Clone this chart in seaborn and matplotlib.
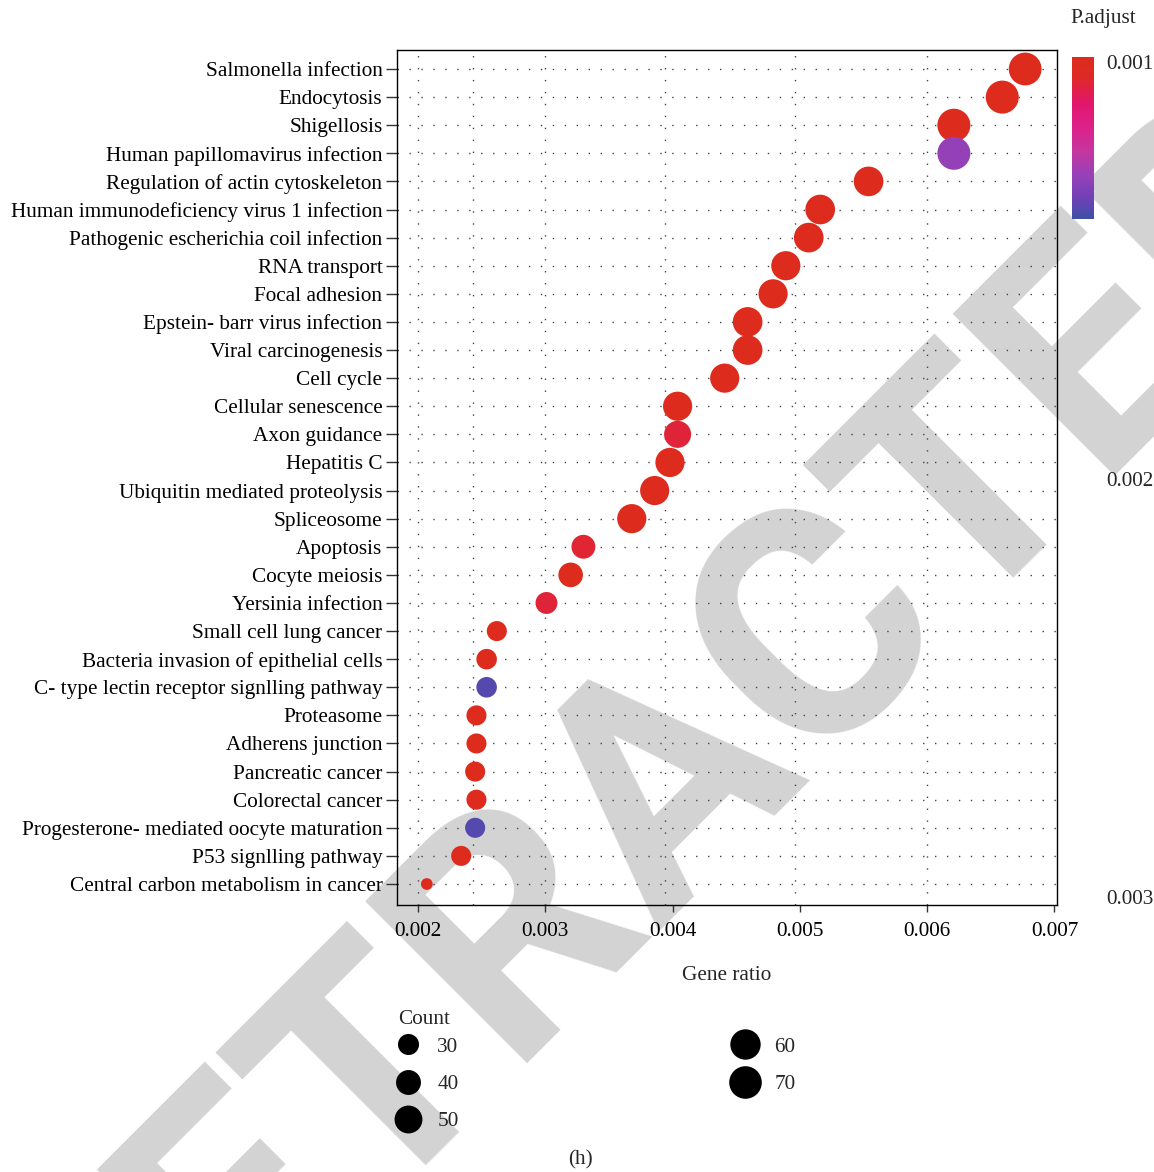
import numpy as np
import pandas as pd
import matplotlib
matplotlib.use("Agg")
import matplotlib.pyplot as plt
from matplotlib.colors import LinearSegmentedColormap, Normalize
from matplotlib.cm import ScalarMappable
from matplotlib.lines import Line2D
from matplotlib.textpath import TextPath
from matplotlib.path import Path
from matplotlib.font_manager import FontProperties
import seaborn as sns

# ---- KEGG enrichment results ----
pathways = [
    "Salmonella infection", "Endocytosis", "Shigellosis",
    "Human papillomavirus infection", "Regulation of actin cytoskeleton",
    "Human immunodeficiency virus 1 infection",
    "Pathogenic escherichia coil infection", "RNA transport", "Focal adhesion",
    "Epstein- barr virus infection", "Viral carcinogenesis", "Cell cycle",
    "Cellular senescence", "Axon guidance", "Hepatitis C",
    "Ubiquitin mediated proteolysis", "Spliceosome", "Apoptosis",
    "Cocyte meiosis", "Yersinia infection", "Small cell lung cancer",
    "Bacteria invasion of epithelial cells",
    "C- type lectin receptor signlling pathway", "Proteasome",
    "Adherens junction", "Pancreatic cancer", "Colorectal cancer",
    "Progesterone- mediated oocyte maturation", "P53 signlling pathway",
    "Central carbon metabolism in cancer",
]
gene_ratio = [
    0.00677, 0.00659, 0.00621, 0.00621, 0.00554, 0.00516, 0.00507, 0.00489,
    0.00479, 0.00459, 0.00459, 0.00441, 0.00404, 0.00404, 0.00398, 0.00386,
    0.00368, 0.00330, 0.00320, 0.00301, 0.00262, 0.00254, 0.00254, 0.00246,
    0.00246, 0.00245, 0.00246, 0.00245, 0.00234, 0.00207,
]
counts = [
    71, 72, 72, 72, 57, 57, 57, 55, 55, 57, 57, 55, 55, 47, 55,
    55, 55, 37, 39, 32, 28, 29, 29, 28, 28, 28, 28, 28, 28, 20,
]
p_adjust = [
    0.00100, 0.00100, 0.00100, 0.00248, 0.00100, 0.00100, 0.00100, 0.00100,
    0.00100, 0.00100, 0.00100, 0.00100, 0.00100, 0.00133, 0.00100, 0.00100,
    0.00100, 0.00130, 0.00100, 0.00133, 0.00100, 0.00100, 0.00288, 0.00100,
    0.00100, 0.00100, 0.00100, 0.00288, 0.00100, 0.00100,
]
count_breaks = [30, 40, 50, 60, 70]
padj_labels = [0.001, 0.002, 0.003]
ratio_ticks = [0.002, 0.003, 0.004, 0.005, 0.006, 0.007]
grid_x = [0.002, 0.00243, 0.003, 0.00394, 0.00496, 0.006]

DPI = 100
W, H = 1154, 1172

df = pd.DataFrame({
    "Description": pathways,
    "GeneRatio": gene_ratio,
    "Count": counts,
    "p.adjust": p_adjust,
})

sns.set_theme(style="white")
plt.rcParams["font.family"] = ["Liberation Serif", "DejaVu Serif"]
FS = 15.3

# colour scale for adjusted p-values (red = most significant)
cmap = LinearSegmentedColormap.from_list("padj", [
    (0.00, "#DD2C1D"), (0.12, "#DE2A26"), (0.28, "#E2166A"),
    (0.42, "#DE2088"), (0.58, "#C6359E"), (0.72, "#9A41B8"),
    (0.86, "#7440B6"), (1.00, "#3E50A6"),
])
norm = Normalize(vmin=0.001, vmax=0.003)

# dot size: diameter grows with sqrt of rescaled count
DOT_MIN_PX, DOT_MAX_PX = 11.7, 33.0
cmin, cmax = min(counts), max(counts)


def dot_area(c):
    t = np.clip((c - cmin) / (cmax - cmin), 0, 1)
    d_px = DOT_MIN_PX + (DOT_MAX_PX - DOT_MIN_PX) * np.sqrt(t)
    return (d_px * 72.0 / DPI) ** 2


size_map = {c: dot_area(c) for c in sorted(set(counts))}

fig = plt.figure(figsize=(W / DPI, H / DPI), dpi=DPI, facecolor="white")

# ---- diagonal watermark, laid out so that the cap-top left corners of the
# two "T" letters sit at the given pixel positions ----
WM_TEXT = "RETRACTED"
wm_font = FontProperties(family=["Roboto", "Liberation Sans", "DejaVu Sans"],
                         weight="bold")
T1_CORNER = (210.0, 1037.0)   # first T, pixels from top-left
T2_CORNER = (797.0, 449.0)    # second T


def glyph_top_left(prefix):
    full = TextPath((0, 0), prefix, size=1, prop=wm_font)
    last = TextPath((0, 0), prefix[-1], size=1, prop=wm_font)
    n = len(last.vertices)
    v = full.vertices[-n:]
    c = full.codes[-n:]
    v = v[c != Path.CLOSEPOLY]
    return v[:, 0].min(), v[:, 1].max()


u1, cap = glyph_top_left(WM_TEXT[:3])
u2, _ = glyph_top_left(WM_TEXT[:7])
span = np.hypot(T2_CORNER[0] - T1_CORNER[0], T2_CORNER[1] - T1_CORNER[1])
em_px = span / (u2 - u1)
r = np.sqrt(0.5)
anchor_x = T1_CORNER[0] - r * (u1 - cap) * em_px
anchor_y = T1_CORNER[1] + r * (u1 + cap) * em_px
wm_prop = wm_font.copy()
wm_prop.set_size(em_px * 72.0 / DPI)
fig.text(anchor_x / W, 1 - anchor_y / H, WM_TEXT, rotation=45,
         rotation_mode="anchor", ha="left", va="baseline",
         fontproperties=wm_prop, color="#D3D3D3", zorder=-1)

ax = fig.add_axes([397 / W, 1 - 905 / H, 660 / W, 855 / H])
ax.set_facecolor("none")

for gx in grid_x:
    ax.axvline(gx, color="#444444", lw=1.0, ls=(0, (1, 7.6)), zorder=1)
for i in range(len(pathways)):
    ax.axhline(i, color="#444444", lw=1.0, ls=(0, (1, 7.6)), zorder=1)

sns.scatterplot(data=df, x="GeneRatio", y="Description", size="Count",
                sizes=size_map, hue="p.adjust", palette=cmap, hue_norm=norm,
                linewidth=0, legend=False, ax=ax, zorder=3)

ax.set_xlim(0.001836, 0.00702)
ax.set_ylim(len(pathways) - 1 + 0.747, -0.676)
ax.set_xticks(ratio_ticks)
ax.set_xticklabels([f"{t:.3f}" for t in ratio_ticks], fontsize=FS)
ax.set_yticks(range(len(pathways)))
ax.set_yticklabels(pathways, fontsize=FS)
ax.tick_params(axis="y", left=True, length=8, width=1.0, color="#333333",
               pad=2.5, labelcolor="black")
ax.tick_params(axis="x", bottom=True, length=5, width=1.0, color="#333333",
               pad=7.5, labelcolor="black")
for s in ax.spines.values():
    s.set_color("black")
    s.set_linewidth(1.0)
ax.set_ylabel("")
ax.set_xlabel("Gene ratio", fontsize=FS, va="center")
ax.xaxis.set_label_coords(0.5, -(976 - 905) / 855)

# colour bar
cax = fig.add_axes([1072 / W, 1 - 219 / H, 22 / W, 162 / H])
cb = fig.colorbar(ScalarMappable(norm=norm, cmap=cmap), cax=cax)
cb.outline.set_visible(False)
cax.invert_yaxis()
cb.set_ticks([0.00158, 0.00211, 0.00265])
cax.tick_params(axis="y", which="both", direction="in", length=3.5, width=1,
                color="white", left=True, right=True, labelleft=False,
                labelright=False)

lax = fig.add_axes([1094 / W, 1 - 897 / H, 0.0001, (897 - 62) / H])
lax.set_facecolor("none")
for s in lax.spines.values():
    s.set_visible(False)
lax.set_xticks([])
lax.set_ylim(padj_labels[-1], padj_labels[0])
lax.set_yticks(padj_labels)
lax.set_yticklabels([f"{v:.3f}" for v in padj_labels], fontsize=FS)
lax.tick_params(axis="y", left=False, right=False, labelleft=False,
                labelright=True, length=0, pad=8.6)
fig.text(1103 / W, 1 - 18 / H, "P.adjust", ha="center", va="center",
         fontsize=FS)

# size legend
fig.text(398 / W, 1 - 1019 / H, "Count", ha="left", va="center", fontsize=FS)
handles = [Line2D([], [], ls="", marker="o", markersize=np.sqrt(dot_area(c)),
                  color="black", markeredgewidth=0) for c in count_breaks]
fig.legend(handles, [str(c) for c in count_breaks], ncol=2,
           loc="upper left", bbox_to_anchor=(398 / W, 1 - 1037 / H),
           frameon=False, borderpad=0, borderaxespad=0,
           handlelength=0.95, handletextpad=0.9, columnspacing=13.0,
           labelspacing=0.82, fontsize=FS)

fig.text(580 / W, 1 - 1160 / H, "(h)", ha="center", va="center", fontsize=FS)

fig.savefig("out.png", dpi=DPI, facecolor="white")
